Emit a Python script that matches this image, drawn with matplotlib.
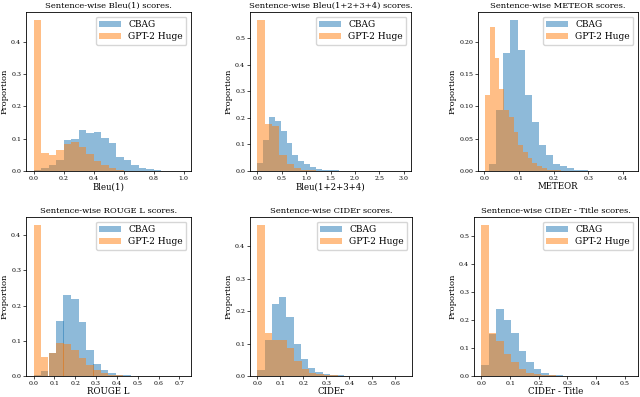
import numpy as np
import matplotlib
matplotlib.use("Agg")
import matplotlib.pyplot as plt

plt.rcParams['font.family'] = ['DejaVu Serif']

series_labels = ["CBAG", "GPT-2 Huge"]

titles = ["Sentence-wise Bleu(1) scores.", "Sentence-wise Bleu(1+2+3+4) scores.",
          "Sentence-wise METEOR scores.", "Sentence-wise ROUGE L scores.",
          "Sentence-wise CIDEr scores.", "Sentence-wise CIDEr - Title scores."]
xlabels = ["Bleu(1)", "Bleu(1+2+3+4)", "METEOR", "ROUGE L", "CIDEr", "CIDEr - Title"]

# each series: (range of its 20 bins), proportions per bin
bleu1_cbag_range = (0.0, 1.0)
bleu1_cbag = [0.002, 0.010, 0.020, 0.035, 0.095, 0.098, 0.127, 0.117, 0.120, 0.103,
              0.087, 0.042, 0.035, 0.020, 0.010, 0.005, 0.002, 0.001, 0.0, 0.0]
bleu1_gpt_range = (0.0, 1.0)
bleu1_gpt = [0.468, 0.057, 0.050, 0.064, 0.082, 0.090, 0.074, 0.054, 0.030, 0.018,
             0.009, 0.004, 0.001, 0.0005, 0.0, 0.0, 0.0, 0.0, 0.0, 0.0]

bleu4_cbag_range = (0.0, 2.4)
bleu4_cbag = [0.030, 0.115, 0.205, 0.190, 0.150, 0.105, 0.062, 0.038, 0.025, 0.015,
              0.008, 0.005, 0.003, 0.002, 0.001, 0.0005, 0.0, 0.0, 0.0, 0.0]
bleu4_gpt_range = (0.0, 3.0)
bleu4_gpt = [0.570, 0.178, 0.170, 0.060, 0.025, 0.010, 0.005, 0.002, 0.001, 0.001,
             0.0005, 0.0, 0.0, 0.0, 0.0, 0.0, 0.0, 0.0, 0.0, 0.0005]

meteor_cbag_range = (0.0145, 0.4225)
meteor_cbag = [0.011, 0.094, 0.182, 0.234, 0.187, 0.118, 0.075, 0.040, 0.024, 0.011,
               0.008, 0.004, 0.002, 0.001, 0.0005, 0.0, 0.0, 0.0, 0.0, 0.0005]
meteor_gpt_range = (0.003, 0.275)
meteor_gpt = [0.117, 0.223, 0.174, 0.127, 0.095, 0.083, 0.060, 0.040, 0.030, 0.020,
              0.012, 0.007, 0.004, 0.002, 0.001, 0.001, 0.0005, 0.0, 0.0, 0.0005]

rouge_cbag_range = (0.0, 0.72)
rouge_cbag = [0.002, 0.015, 0.065, 0.157, 0.230, 0.220, 0.152, 0.075, 0.034, 0.016,
              0.009, 0.004, 0.002, 0.001, 0.0, 0.0, 0.0, 0.0, 0.0, 0.0]
rouge_gpt_range = (0.0, 0.72)
rouge_gpt = [0.430, 0.054, 0.066, 0.094, 0.090, 0.073, 0.050, 0.030, 0.018, 0.008,
             0.004, 0.002, 0.001, 0.0, 0.0, 0.0, 0.0, 0.0, 0.0, 0.0]

cider_cbag_range = (0.0, 0.63)
cider_cbag = [0.020, 0.110, 0.222, 0.243, 0.183, 0.100, 0.052, 0.025, 0.012, 0.007,
              0.004, 0.002, 0.001, 0.001, 0.0005, 0.0, 0.0, 0.0, 0.0, 0.0]
cider_gpt_range = (0.0, 0.64)
cider_gpt = [0.467, 0.133, 0.112, 0.112, 0.085, 0.045, 0.022, 0.010, 0.005, 0.003,
             0.002, 0.001, 0.0005, 0.0, 0.0, 0.0, 0.0, 0.0, 0.0, 0.0005]

title_cbag_range = (0.0, 0.52)
title_cbag = [0.040, 0.150, 0.240, 0.200, 0.152, 0.090, 0.050, 0.025, 0.012, 0.005,
              0.002, 0.001, 0.0005, 0.0, 0.0, 0.0, 0.0, 0.0, 0.0, 0.0]
title_gpt_range = (0.0, 0.52)
title_gpt = [0.540, 0.155, 0.125, 0.080, 0.050, 0.024, 0.012, 0.006, 0.003, 0.002,
             0.001, 0.0, 0.0, 0.0, 0.0, 0.0, 0.0, 0.0, 0.0, 0.0]

panels = [
    (bleu1_cbag_range, bleu1_cbag, bleu1_gpt_range, bleu1_gpt),
    (bleu4_cbag_range, bleu4_cbag, bleu4_gpt_range, bleu4_gpt),
    (meteor_cbag_range, meteor_cbag, meteor_gpt_range, meteor_gpt),
    (rouge_cbag_range, rouge_cbag, rouge_gpt_range, rouge_gpt),
    (cider_cbag_range, cider_cbag, cider_gpt_range, cider_gpt),
    (title_cbag_range, title_cbag, title_gpt_range, title_gpt),
]

W, H = 640, 397
fig = plt.figure(figsize=(6.4, 3.97), dpi=100)

# axes boxes in pixels: left, top, right, bottom
boxes = [(26, 12, 191, 171), (250, 12, 411, 171), (478, 12, 638, 171),
         (26, 217, 191, 376), (250, 217, 412, 376), (474, 217, 638, 376)]

colors = ["#1f77b4", "#ff7f0e"]

for i, (box, data) in enumerate(zip(boxes, panels)):
    l, t, r, b = box
    ax = fig.add_axes([l / W, (H - b) / H, (r - l) / W, (b - t) / H])
    c_rng, c_vals, g_rng, g_vals = data
    for rng, vals, col, lab in ((c_rng, c_vals, colors[0], series_labels[0]),
                                (g_rng, g_vals, colors[1], series_labels[1])):
        edges = np.linspace(rng[0], rng[1], len(vals) + 1)
        ax.hist(edges[:-1], bins=edges, weights=vals, alpha=0.5, color=col, label=lab)
    ax.set_title(titles[i], fontsize=6, pad=3)
    ax.set_xlabel(xlabels[i], fontsize=6.2, labelpad=1)
    ax.set_ylabel("Proportion", fontsize=6, labelpad=2)
    ax.tick_params(labelsize=4.5, length=2, width=0.5, pad=1.5)
    for s in ax.spines.values():
        s.set_linewidth(0.6)
    ax.legend(loc="upper right", fontsize=6.5, handlelength=2.4, borderpad=0.4,
              labelspacing=0.35, framealpha=0.8, edgecolor="#cccccc")

fig.savefig("out.png", dpi=100)
